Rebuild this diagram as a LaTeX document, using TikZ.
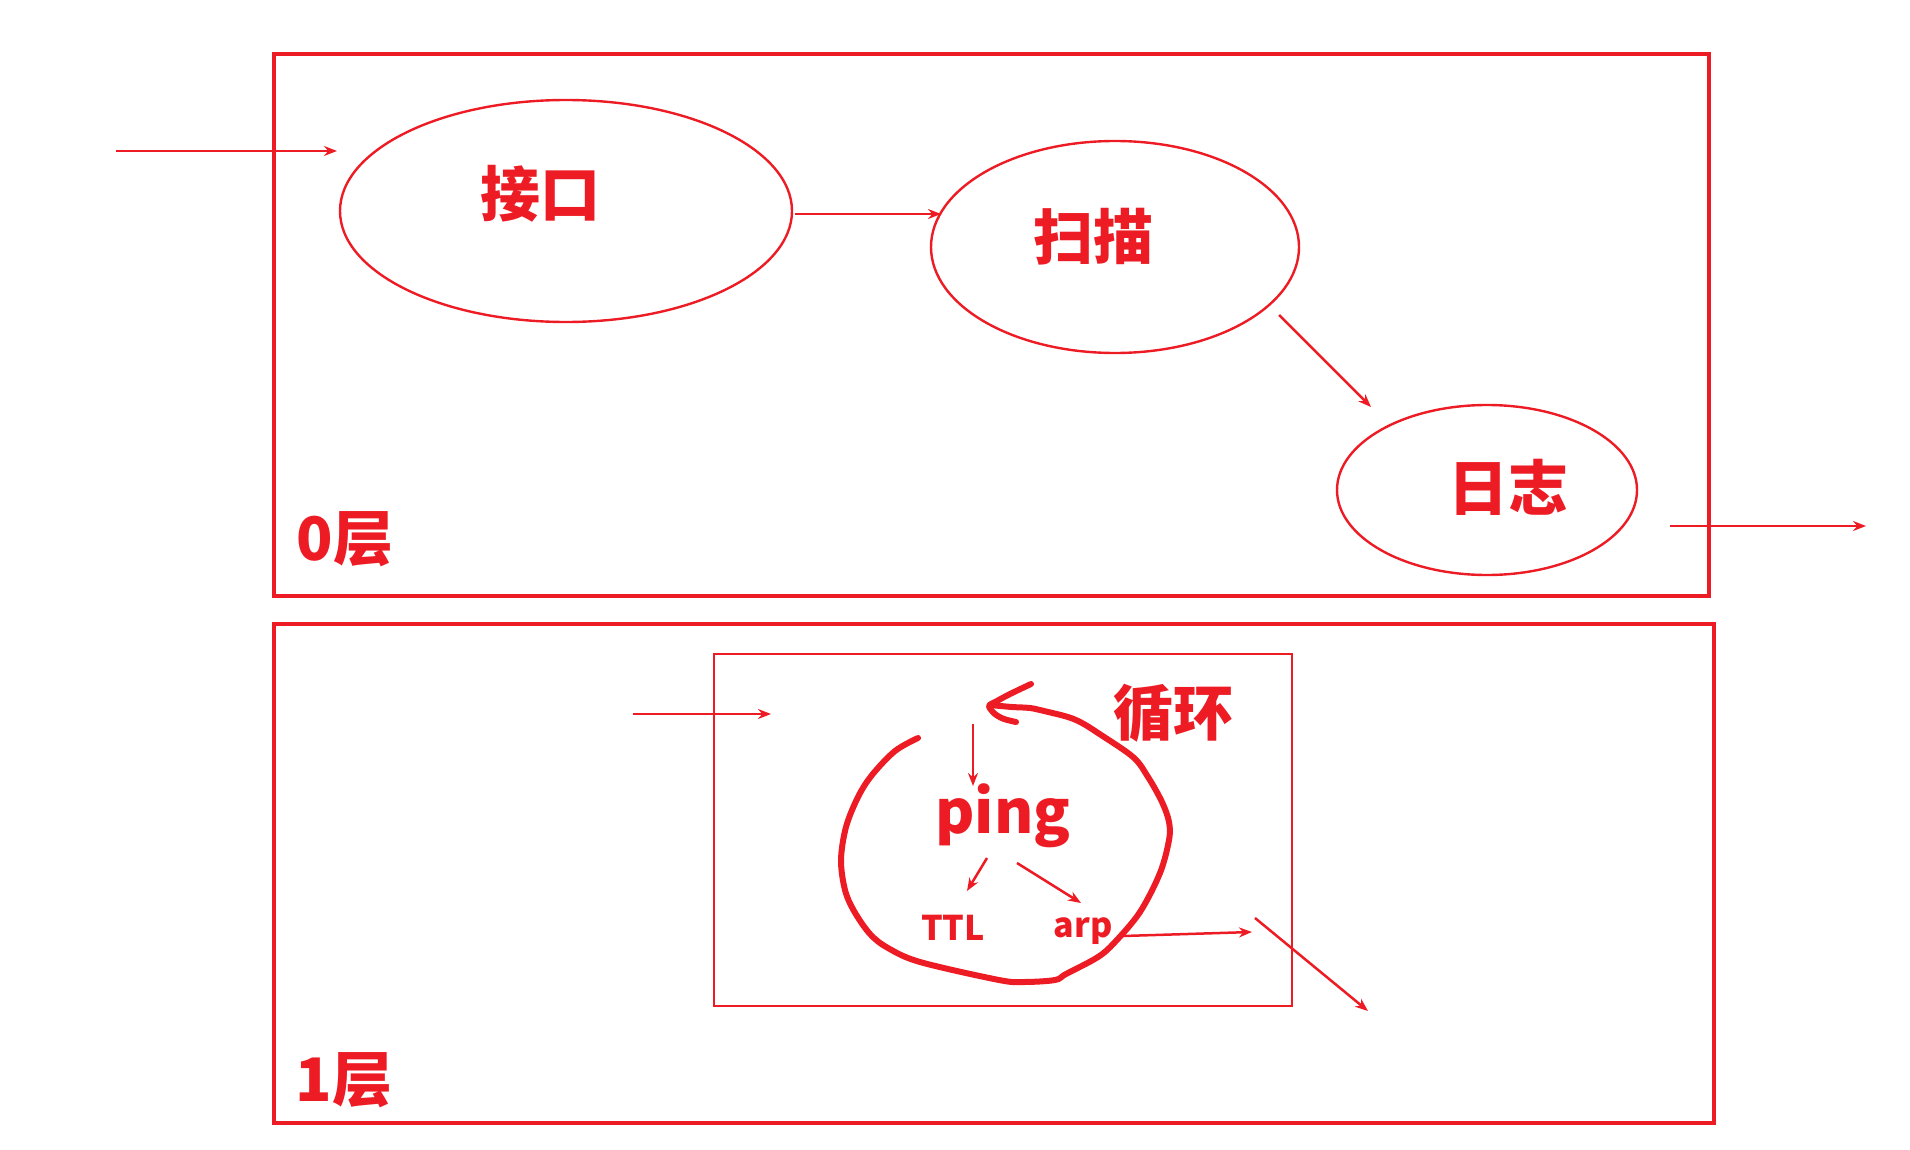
\documentclass[tikz,border=0pt]{standalone}
\usepackage{fontspec}
\setmainfont{Noto Sans CJK SC}
\usetikzlibrary{arrows.meta,shapes.geometric}
\definecolor{rd}{RGB}{237,28,36}
\tikzset{
  layerbox/.style={draw=rd, line width=1.6pt, rectangle, inner sep=0pt},
  oval/.style={draw=rd, line width=1.2pt, ellipse, inner sep=0pt},
  lbl/.style={text=rd, font=\bfseries\fontsize{30pt}{30pt}\selectfont, inner sep=0pt},
  small/.style={text=rd, font=\bfseries\fontsize{17pt}{17pt}\selectfont, inner sep=0pt},
  conn/.style={draw=rd, line width=1.25pt, -{Stealth[length=6.5pt,width=5pt]}},
  loopline/.style={draw=rd, line width=3pt, line cap=round, line join=round}
}
\begin{document}
\begin{tikzpicture}[x={(0.5pt,0)}, y={(0,-0.5pt)}]
\useasboundingbox (0,0) rectangle (1910,1150);
% layer boxes
\node[layerbox, minimum width=717.5pt, minimum height=271pt] (L0) at (991.5,325) {};
\node[layerbox, minimum width=720pt, minimum height=249.5pt] (L1) at (994,873.5) {};
\node[layerbox, line width=1.4pt, minimum width=289pt, minimum height=176pt] (L1in) at (1003,830) {};
% ellipses
\node[oval, minimum width=226pt, minimum height=111pt] (E1) at (566,211) {};
\node[oval, minimum width=184pt, minimum height=106pt] (E2) at (1115,247) {};
\node[oval, minimum width=150pt, minimum height=85pt] (E3) at (1487,490) {};
% labels
\node[lbl] (t1) at (540,194) {接口};
\node[lbl] (t2) at (1093,237) {扫描};
\node[lbl] (t3) at (1508,487) {日志};
\node[lbl] (t0) at (345,539) {0层};
\node[lbl] (t4) at (344,1080) {1层};
\node[lbl] (xh) at (1173,713) {循环};
\node[lbl, anchor=base] (ping) at (1003,833) {ping};
\node[small, anchor=base] (ttl) at (953,940) {TTL};
\node[small, anchor=base] (arp) at (1083,937) {arp};
% connector coordinates
\coordinate (a1s) at (116,151);  \coordinate (a1e) at (337,151);
\coordinate (a2s) at (795,214);  \coordinate (a2e) at (941,214);
\coordinate (a3s) at (1279,315); \coordinate (a3e) at (1371,407);
\coordinate (a4s) at (1670,526); \coordinate (a4e) at (1866,526);
\coordinate (b1s) at (633,714);  \coordinate (b1e) at (771,714);
\coordinate (b2s) at (973,724);  \coordinate (b2e) at (973,786);
\coordinate (b3s) at (987,858);  \coordinate (b3e) at (967,891);
\coordinate (b4s) at (1017,863); \coordinate (b4e) at (1081,903);
\coordinate (b5s) at (1123,936); \coordinate (b5e) at (1252,932);
\coordinate (b6s) at (1255,918); \coordinate (b6e) at (1368,1011);
\draw[conn] (a1s) -- (a1e);
\draw[conn] (a2s) -- (a2e);
\draw[conn] (a3s) -- (a3e);
\draw[conn] (a4s) -- (a4e);
\draw[conn] (b1s) -- (b1e);
\draw[conn] (b2s) -- (b2e);
\draw[conn] (b3s) -- (b3e);
\draw[conn] (b4s) -- (b4e);
\draw[conn] (b5s) -- (b5e);
\draw[conn] (b6s) -- (b6e);
% hand-drawn loop
\draw[loopline] plot[smooth, tension=0.55] coordinates {(918,738) (895,751) (872,775) (858,797) (846,827) (841,860) (845,890) (854,911) (870,934) (888,948) (920,962) (999,980) (1024,982) (1055,980) (1066,974) (1098,957) (1115,942) (1140,912) (1160,873) (1169,840) (1169,822) (1162,802) (1148,777) (1133,757) (1098,733) (1082,723) (1068,717) (1044,711) (1030,708) (1012,707) (990,705)};
\draw[loopline] plot[smooth, tension=0.5] coordinates {(1031,684) (1010,694) (997,701) (989,706) (995,714) (1004,719) (1016,722)};
\end{tikzpicture}
\end{document}
